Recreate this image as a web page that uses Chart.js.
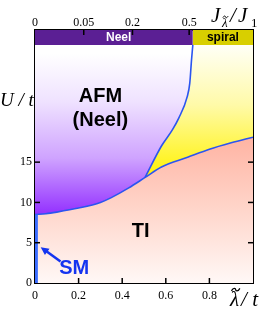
<!DOCTYPE html>
<html><head><meta charset="utf-8">
<script src="https://cdn.jsdelivr.net/npm/chart.js@4/dist/chart.umd.min.js"></script>
<style>html,body{margin:0;padding:0;background:#fff;}#wrap{width:261px;height:313px;}</style>
</head><body><div id="wrap"><canvas id="c" width="261" height="313"></canvas></div>
<script>
// ---- data ----
const X_TICKS = [0, 0.2, 0.4, 0.6, 0.8];          // λ̃/t
const Y_TICKS = [0, 5, 10, 15];                   // U/t
const TOP_TICK_LABELS = [0, 0.05, 0.2, 0.5];      // J_λ̃/J_1 = (λ̃/t)^2
const REGION_TOP = 29.55;                         // top of phase-diagram area (U/t)
const BAR_TOP = 31.4;                             // top of ordering bar (U/t)
const NEEL_SPIRAL_EDGE = 0.724;                   // λ̃/t where Neel -> spiral
// AFM / TI and spiral / TI boundary
const TI_BOUNDARY_X = [0, 0.05, 0.1, 0.2, 0.3, 0.35, 0.43, 0.505, 0.58, 0.7, 0.8, 0.9, 1.0];
const TI_BOUNDARY_U = [8.5, 8.6, 8.8, 9.3, 10.0, 10.6, 11.8, 13.1, 14.4, 15.6, 16.6, 17.4, 18.1];
// AFM / spiral boundary
const SPIRAL_BOUNDARY_X = [0.505, 0.58, 0.63, 0.66, 0.698, 0.71, 0.718, 0.724];
const SPIRAL_BOUNDARY_U = [13.1, 17.0, 19.0, 20.5, 23.1, 24.8, 27.7, 29.55];
// SM line at λ̃ ≈ 0
const SM_X = [0.004, 0.004];
const SM_U = [0, 8.5];
// label anchors (data units)
const LABELS = [
  {text: 'AFM', x: 0.3, y: 23.2, color: '#000'},
  {text: '(Neel)', x: 0.3, y: 20.2, color: '#000'},
  {text: 'TI', x: 0.485, y: 6.4, color: '#000'},
  {text: 'SM', x: 0.18, y: 1.8, color: '#1434f0'}
];
const SM_ARROW = {from: [0.117, 2.66], to: [0.026, 4.45]};

const pts = (xs, ys) => xs.map((x, i) => ({x, y: ys[i]}));

function vGrad(chart, stops) {
  const area = chart.chartArea;
  if (!area) return 'rgba(0,0,0,0)';
  const y = chart.scales.y;
  const g = chart.ctx.createLinearGradient(0, y.getPixelForValue(stops.top), 0, y.getPixelForValue(stops.bottom));
  stops.colors.forEach(([o, c]) => g.addColorStop(o, c));
  return g;
}

const spiralUpper = pts(SPIRAL_BOUNDARY_X, SPIRAL_BOUNDARY_U).concat([{x: 1, y: REGION_TOP}]);

const datasets = [
  { // AFM background
    data: [{x: 0, y: REGION_TOP}, {x: 1, y: REGION_TOP}], order: 5, borderWidth: 0, pointRadius: 0, fill: 'start',
    backgroundColor: (c) => vGrad(c.chart, {top: 28.5, bottom: 8.5, colors: [[0, '#ffffff'], [0.3, '#efe2ff'], [0.65, '#cfa3ff'], [1, '#9330ff']]})
  },
  { // spiral region
    data: spiralUpper, order: 4, borderWidth: 0, pointRadius: 0, fill: 'start',
    backgroundColor: (c) => vGrad(c.chart, {top: 29.5, bottom: 13, colors: [[0, '#fffff6'], [0.45, '#fffaa8'], [1, '#fff200']]})
  },
  { // TI region
    data: pts(TI_BOUNDARY_X, TI_BOUNDARY_U), order: 3, borderWidth: 0, pointRadius: 0, fill: 'start',
    backgroundColor: (c) => vGrad(c.chart, {top: 18, bottom: 0, colors: [[0, '#ffb4a3'], [0.5, '#ffd6cb'], [1, '#fff8f6']]})
  },
  { // Neel bar
    data: [{x: 0, y: BAR_TOP}, {x: NEEL_SPIRAL_EDGE, y: BAR_TOP}], order: 3, borderWidth: 0, pointRadius: 0,
    fill: {value: REGION_TOP}, backgroundColor: '#5b1f94'
  },
  { // spiral bar
    data: [{x: NEEL_SPIRAL_EDGE, y: BAR_TOP}, {x: 1, y: BAR_TOP}], order: 3, borderWidth: 0, pointRadius: 0,
    fill: {value: REGION_TOP}, backgroundColor: '#d8cf00'
  },
  { // boundaries
    data: pts(TI_BOUNDARY_X, TI_BOUNDARY_U), order: 1, borderColor: '#2b55f0', borderWidth: 1.6, pointRadius: 0,
    fill: false, cubicInterpolationMode: 'monotone'
  },
  {
    data: pts(SPIRAL_BOUNDARY_X, SPIRAL_BOUNDARY_U), order: 1, borderColor: '#2b55f0', borderWidth: 1.6, pointRadius: 0,
    fill: false, cubicInterpolationMode: 'monotone'
  },
  { // SM
    data: pts(SM_X, SM_U), order: 0, borderColor: '#3a6cff', borderWidth: 4, pointRadius: 0, fill: false
  }
];
[0,1,2].forEach(i => datasets[i].cubicInterpolationMode = 'monotone');

const serif = '"Liberation Serif", "DejaVu Serif", serif';
const sans = '"Liberation Sans", Arial, sans-serif';

// draw italic lambda with a tilde accent (returns advance width)
function lambdaTilde(ctx, size, x, base) {
  ctx.font = 'italic ' + size + 'px ' + serif;
  ctx.fillText('λ', x, base);
  const w = ctx.measureText('λ').width;
  const cx = x + w * 0.62, cy = base - size * 0.78;
  const hw = size * 0.2, amp = size * 0.06;
  ctx.save();
  ctx.lineWidth = Math.max(1, size * 0.06);
  ctx.beginPath();
  ctx.moveTo(cx - hw, cy + amp);
  ctx.bezierCurveTo(cx - hw * 0.5, cy - amp * 2.2, cx, cy - amp, cx, cy);
  ctx.bezierCurveTo(cx, cy + amp, cx + hw * 0.5, cy + amp * 2.2, cx + hw, cy - amp);
  ctx.stroke();
  ctx.restore();
  return w;
}

const decor = {
  id: 'decor',
  afterDraw(chart) {
    const ctx = chart.ctx;
    const {x, y, x2} = chart.scales;
    const a = chart.chartArea;
    ctx.save();
    // inner tick marks
    ctx.strokeStyle = '#000'; ctx.lineWidth = 1.5;
    const L = 5;
    X_TICKS.slice(1).forEach(v => { const px = x.getPixelForValue(v); ctx.beginPath(); ctx.moveTo(px, a.bottom); ctx.lineTo(px, a.bottom - L); ctx.stroke(); });
    TOP_TICK_LABELS.slice(1).forEach(v => { const px = x2.getPixelForValue(Math.sqrt(v)); ctx.beginPath(); ctx.moveTo(px, a.top); ctx.lineTo(px, a.top + L); ctx.stroke(); });
    Y_TICKS.slice(1).forEach(v => {
      const py = y.getPixelForValue(v);
      ctx.beginPath(); ctx.moveTo(a.left, py); ctx.lineTo(a.left + L, py); ctx.stroke();
      ctx.beginPath(); ctx.moveTo(a.right, py); ctx.lineTo(a.right - L, py); ctx.stroke();
    });
    // bar texts
    const barMid = y.getPixelForValue((REGION_TOP + BAR_TOP) / 2);
    ctx.font = 'bold 12px ' + sans; ctx.textAlign = 'center'; ctx.textBaseline = 'middle';
    ctx.fillStyle = '#fff'; ctx.fillText('Neel', x.getPixelForValue(NEEL_SPIRAL_EDGE * 0.53), barMid + 0.5);
    ctx.fillStyle = '#000'; ctx.fillText('spiral', x.getPixelForValue((NEEL_SPIRAL_EDGE + 1) / 2), barMid + 0.5);
    // region labels
    ctx.font = 'bold 20px ' + sans;
    LABELS.forEach(l => { ctx.fillStyle = l.color; ctx.fillText(l.text, x.getPixelForValue(l.x), y.getPixelForValue(l.y)); });
    // SM arrow
    const fx = x.getPixelForValue(SM_ARROW.from[0]), fy = y.getPixelForValue(SM_ARROW.from[1]);
    const tx = x.getPixelForValue(SM_ARROW.to[0]), ty = y.getPixelForValue(SM_ARROW.to[1]);
    const ang = Math.atan2(ty - fy, tx - fx);
    ctx.strokeStyle = '#1434f0'; ctx.fillStyle = '#1434f0'; ctx.lineWidth = 2.5;
    ctx.beginPath(); ctx.moveTo(fx, fy); ctx.lineTo(tx - 5 * Math.cos(ang), ty - 5 * Math.sin(ang)); ctx.stroke();
    ctx.beginPath(); ctx.moveTo(tx, ty);
    ctx.lineTo(tx - 9 * Math.cos(ang - 0.45), ty - 9 * Math.sin(ang - 0.45));
    ctx.lineTo(tx - 9 * Math.cos(ang + 0.45), ty - 9 * Math.sin(ang + 0.45));
    ctx.closePath(); ctx.fill();
    // axis titles
    ctx.fillStyle = '#000'; ctx.strokeStyle = '#000'; ctx.textBaseline = 'alphabetic';
    ctx.font = 'italic 19px ' + serif; ctx.textAlign = 'center';
    ctx.fillText('U / t', 17, 106);
    ctx.textAlign = 'left';
    // bottom title  λ̃ / t
    let w = lambdaTilde(ctx, 21, 230, 306);
    ctx.font = 'italic 21px ' + serif;
    ctx.fillText('/ t', 230 + w + 2, 306);
    // top title  J_λ̃ / J_1
    ctx.font = 'italic 21px ' + serif; ctx.fillText('J', 211, 22);
    w = lambdaTilde(ctx, 13, 222, 27);
    ctx.font = 'italic 21px ' + serif; ctx.fillText('/', 230, 22); ctx.fillText('J', 238, 22);
    ctx.font = '13px ' + serif; ctx.fillText('1', 251, 27);
    ctx.restore();
  }
};

const tickFont = {family: serif, size: 12};
new Chart(document.getElementById('c'), {
  type: 'line',
  data: {datasets},
  plugins: [decor],
  options: {
    responsive: false, animation: false, devicePixelRatio: 1,
    layout: {padding: 0},
    plugins: {legend: {display: false}, tooltip: {enabled: false}},
    scales: {
      x: {
        type: 'linear', position: 'bottom', min: 0, max: 1,
        afterBuildTicks: s => { s.ticks = X_TICKS.map(v => ({value: v})); },
        afterFit: s => { s.height = 30; },
        grid: {display: false, drawTicks: false},
        border: {display: true, color: '#000', width: 2},
        ticks: {font: tickFont, color: '#000', padding: 6, maxRotation: 0, autoSkip: false, callback: v => String(v)}
      },
      x2: {
        type: 'linear', position: 'top', min: 0, max: 1,
        afterBuildTicks: s => { s.ticks = TOP_TICK_LABELS.map(v => ({value: Math.sqrt(v)})); },
        afterFit: s => { s.height = 30; },
        grid: {display: false, drawTicks: false},
        border: {display: true, color: '#000', width: 2},
        ticks: {font: {family: serif, size: 12, lineHeight: 0.7}, color: '#000', padding: 3, maxRotation: 0, autoSkip: false, callback: (v, i) => String(TOP_TICK_LABELS[i])}
      },
      y: {
        type: 'linear', position: 'left', min: 0, max: BAR_TOP,
        afterBuildTicks: s => { s.ticks = Y_TICKS.map(v => ({value: v})); },
        afterFit: s => { s.width = 35; },
        grid: {display: false, drawTicks: false},
        border: {display: true, color: '#000', width: 2},
        ticks: {font: tickFont, color: '#000', padding: 3, autoSkip: false, callback: v => String(v)}
      },
      y2: {
        type: 'linear', position: 'right', min: 0, max: BAR_TOP,
        afterFit: s => { s.width = 8; },
        grid: {display: false, drawTicks: false},
        border: {display: true, color: '#000', width: 2},
        ticks: {display: false}
      }
    }
  }
});
</script></body></html>
